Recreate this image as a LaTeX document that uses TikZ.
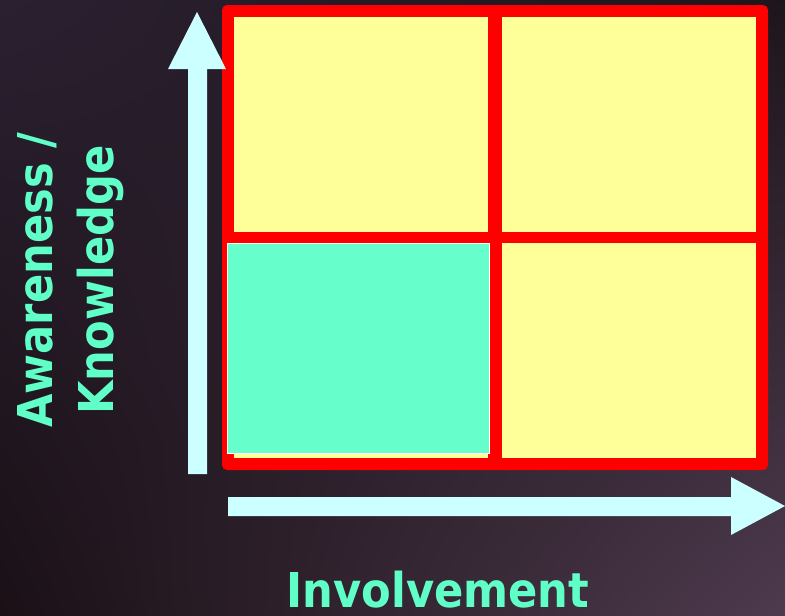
\documentclass[tikz,border=0pt]{standalone}
\usepackage{fontspec}
\usetikzlibrary{shadings}
\newfontfamily\labfont[FakeStretch=0.9]{DejaVu Sans}
\definecolor{bgA}{HTML}{2A2030}
\definecolor{bgB}{HTML}{1E151C}
\definecolor{bgC}{HTML}{1A1016}
\definecolor{bgD}{HTML}{4E3B4E}
\definecolor{cellyellow}{HTML}{FFFF99}
\definecolor{cellgreen}{HTML}{66FFCC}
\definecolor{framered}{HTML}{FF0000}
\definecolor{arrowcyan}{HTML}{CCFFFF}
\definecolor{labgreen}{HTML}{60FFC8}
\tikzset{
  cell/.style={draw=none, fill=cellyellow, inner sep=0pt, outer sep=0pt, anchor=north west},
  hicell/.style={draw=white, line width=1pt, fill=cellgreen, inner sep=0pt, outer sep=0pt, anchor=north west},
  axisarrow/.style={fill=arrowcyan, draw=none},
  axislabel/.style={text=labgreen, font=\labfont\bfseries\fontsize{48}{58}\selectfont, inner sep=0pt}
}
\begin{document}
\begin{tikzpicture}[x=1pt,y=-1pt]
  % background
  \shade[upper left=bgA, upper right=bgB, lower left=bgC, lower right=bgD] (0,0) rectangle (785,616);
  \useasboundingbox (0,0) rectangle (785,616);
  % red frame
  \node[fill=framered, rounded corners=5pt, inner sep=0pt, outer sep=0pt, anchor=north west,
        minimum width=546pt, minimum height=465pt] (frame) at (222,5) {};
  % cells
  \node[cell, minimum width=254pt, minimum height=215pt] (tl) at (234,17) {};
  \node[cell, minimum width=254pt, minimum height=215pt] (tr) at (502,17) {};
  \node[cell, minimum width=254pt, minimum height=215pt] (bl) at (234,243) {};
  \node[cell, minimum width=254pt, minimum height=215pt] (br) at (502,243) {};
  \node[hicell, minimum width=262pt, minimum height=210pt] (green) at (227,243) {};
  % axes
  \fill[axisarrow] (188,474) -- (188,69) -- (168,69) -- (197,12) -- (226,69) -- (207,69) -- (207,474) -- cycle;
  \fill[axisarrow] (228,497) -- (731,497) -- (731,477) -- (785,506) -- (731,535) -- (731,516) -- (228,516) -- cycle;
  % labels
  \node[axislabel, rotate=90, anchor=base] (aw) at (52,280) {Awareness /};
  \node[axislabel, rotate=90, anchor=base] (kn) at (113,280) {Knowledge};
  \node[axislabel, anchor=base, text depth=0pt] (inv) at (438,607) {Involvement};
\end{tikzpicture}
\end{document}
